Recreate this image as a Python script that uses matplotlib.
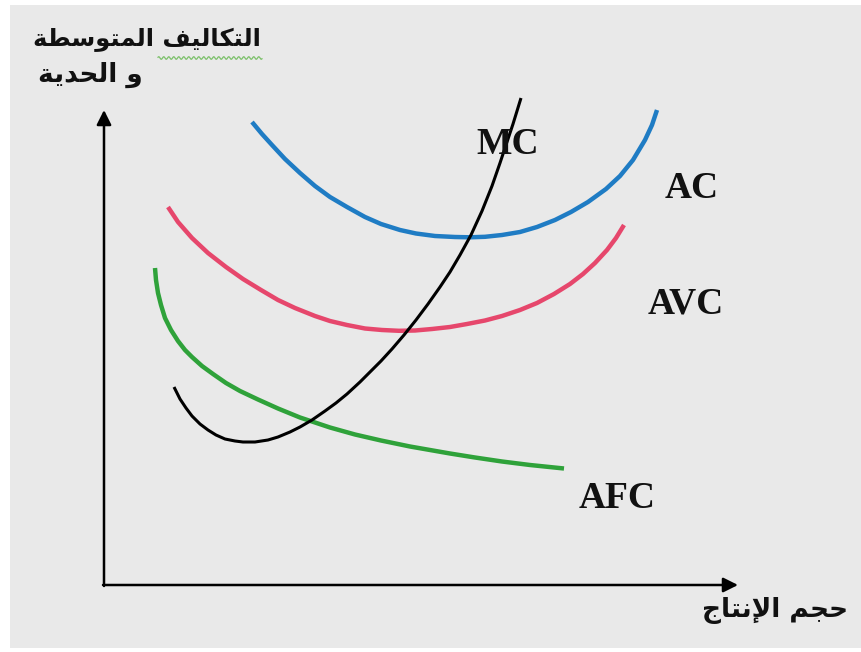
import matplotlib.pyplot as plt
import matplotlib.patches as mpatches
import numpy as np

# curves (pixel units, y grows downwards)
ac_x = [252, 262, 272, 285, 300, 315, 330, 347, 365, 381, 400, 416, 435, 455, 470,
        485, 502, 520, 537, 555, 571, 588, 606, 620, 633, 645, 652, 657]
ac_y = [122, 134, 145, 159, 173, 186, 197, 207, 217, 224, 230, 233.5, 236, 237, 237.3,
        236.8, 235, 232, 227, 220, 212, 202, 189, 176, 160, 140, 125, 110]

avc_x = [168, 178, 192, 208, 226, 243, 261, 278, 295, 315, 330, 347, 365, 382, 399,
         415, 432, 450, 467, 485, 502, 520, 537, 554, 570, 583, 595, 607, 616, 624]
avc_y = [207, 222, 238, 253, 267, 279, 290, 300, 308, 316, 321, 325, 328.5, 330, 330.8,
         330.5, 329, 327, 324, 320.5, 316, 310, 303, 294, 284, 274, 263, 250, 238, 225]

afc_x = [155, 156, 158, 161, 165, 171, 178, 185, 192, 202, 213, 226, 240, 258, 278,
         300, 330, 355, 381, 410, 450, 475, 502, 530, 564]
afc_y = [268, 280, 293, 305, 318, 330, 341, 350, 357, 366, 374, 383, 391, 399.5, 408.5,
         417.5, 427.5, 434.5, 440.5, 446.5, 453.5, 457.5, 461.5, 465, 468.5]

mc_x = [174, 180, 186, 192, 200, 208, 216, 225, 235, 243, 255, 268, 278, 290, 300,
        312, 325, 336, 347, 360, 372, 381, 392, 404, 416, 428, 440, 450, 460, 471,
        482, 492, 500, 506, 513, 521]
mc_y = [387, 399, 408, 416, 424, 430, 435, 439, 441, 442, 442, 440, 437, 432, 427,
        420, 411, 403, 394, 382, 370, 361, 349, 335, 320, 304, 287, 272, 255, 235,
        211, 186, 163, 145, 124, 98]

curve_labels = ["MC", "AC", "AVC", "AFC"]
y_title = ["التكاليف المتوسطة", "و الحدية"]
x_title = "حجم الإنتاج"

# --- minimal arabic shaping (matplotlib has no bidi / joining) ---
FORMS = {
    'ا': (0xFE8D, 0xFE8E, None, None),
    'إ': (0xFE87, 0xFE88, None, None),
    'ت': (0xFE95, 0xFE96, 0xFE97, 0xFE98),
    'ة': (0xFE93, 0xFE94, None, None),
    'ج': (0xFE9D, 0xFE9E, 0xFE9F, 0xFEA0),
    'ح': (0xFEA1, 0xFEA2, 0xFEA3, 0xFEA4),
    'د': (0xFEA9, 0xFEAA, None, None),
    'س': (0xFEB1, 0xFEB2, 0xFEB3, 0xFEB4),
    'ط': (0xFEC1, 0xFEC2, 0xFEC3, 0xFEC4),
    'ف': (0xFED1, 0xFED2, 0xFED3, 0xFED4),
    'ك': (0xFED9, 0xFEDA, 0xFEDB, 0xFEDC),
    'ل': (0xFEDD, 0xFEDE, 0xFEDF, 0xFEE0),
    'م': (0xFEE1, 0xFEE2, 0xFEE3, 0xFEE4),
    'ن': (0xFEE5, 0xFEE6, 0xFEE7, 0xFEE8),
    'و': (0xFEED, 0xFEEE, None, None),
    'ي': (0xFEF1, 0xFEF2, 0xFEF3, 0xFEF4),
}
LAM_ALEF = {'ا': (0xFEFB, 0xFEFC), 'إ': (0xFEF9, 0xFEFA)}


def shape(text):
    out = []
    n = len(text)
    i = 0
    prev_joins = False
    while i < n:
        c = text[i]
        if c not in FORMS:
            out.append(c)
            prev_joins = False
            i += 1
            continue
        if c == 'ل' and i + 1 < n and text[i + 1] in LAM_ALEF:
            iso, fin = LAM_ALEF[text[i + 1]]
            out.append(chr(fin if prev_joins else iso))
            prev_joins = False
            i += 2
            continue
        iso, fin, ini, med = FORMS[c]
        can_left = ini is not None and i + 1 < n and text[i + 1] in FORMS
        if prev_joins and can_left:
            f = med
        elif prev_joins:
            f = fin
        elif can_left:
            f = ini
        else:
            f = iso
        out.append(chr(f))
        prev_joins = can_left
        i += 1
    return ''.join(reversed(out))


fig = plt.figure(figsize=(8.61, 6.52), dpi=100, facecolor='white')
ax = fig.add_axes([0, 0, 1, 1])
ax.set_xlim(0, 861)
ax.set_ylim(652, 0)
ax.set_axis_off()
ax.patch.set_visible(False)

# grey page behind the drawing
ax.add_patch(mpatches.Rectangle((10 / 861, 4 / 652), 1, 1 - 9 / 652, transform=ax.transAxes,
                                facecolor='#e9e9e9', edgecolor='none', zorder=0))

# axes with arrows
arrow = dict(arrowstyle='-|>', lw=1.8, color='black', mutation_scale=22, shrinkA=0, shrinkB=0)
ax.annotate('', xy=(104, 110), xytext=(104, 586), arrowprops=arrow)
ax.annotate('', xy=(738, 585), xytext=(103, 585), arrowprops=arrow)

# curves
ax.plot(ac_x, ac_y, color='#1f7cc4', lw=3.2, solid_capstyle='butt', solid_joinstyle='round')
ax.plot(avc_x, avc_y, color='#e6476c', lw=3.2, solid_capstyle='butt', solid_joinstyle='round')
ax.plot(afc_x, afc_y, color='#2fa23a', lw=3.2, solid_capstyle='butt', solid_joinstyle='round')
ax.plot(mc_x, mc_y, color='black', lw=2.2, solid_capstyle='butt', solid_joinstyle='round')

lab_pos = [(508, 145), (692, 188), (686, 304), (617, 498)]
for lab, (lx, ly) in zip(curve_labels, lab_pos):
    ax.text(lx, ly, lab, fontsize=27, fontweight='bold', family='Liberation Serif',
            ha='center', va='center', color='#111111')

# arabic titles
ax.text(33, 40, shape(y_title[0]), fontsize=17.5, fontweight='bold', family=['DejaVu Sans'],
        ha='left', va='center', color='#111111')
ax.text(38, 75, shape(y_title[1]), fontsize=19, fontweight='bold', family=['DejaVu Sans'],
        ha='left', va='center', color='#111111')
ax.text(848, 610, shape(x_title), fontsize=19, fontweight='bold', family=['DejaVu Sans'],
        ha='right', va='center', color='#111111')

# spell-check squiggle under the first word
sx = np.linspace(158, 262, 200)
ax.plot(sx, 58 + 1.3 * np.sin(sx * 2 * np.pi / 5), color='#7cc06a', lw=0.9)

fig.savefig('out.png', dpi=100, facecolor=fig.get_facecolor())
